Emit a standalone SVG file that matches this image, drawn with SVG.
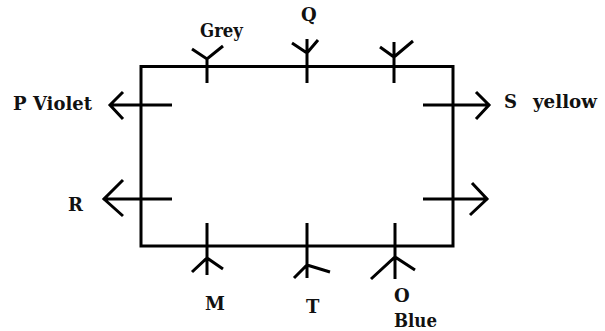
<svg xmlns="http://www.w3.org/2000/svg" width="605" height="331" viewBox="0 0 605 331">
<style>
.l{stroke:#000;stroke-width:3;fill:none;stroke-linecap:butt}
.t{font-family:"DejaVu Serif","Liberation Serif",serif;font-weight:bold;font-size:18px;fill:#111}
</style>
<rect width="605" height="331" fill="#fff"/>
<g id="connectors">
<rect id="table" x="141" y="66.5" width="312" height="179.5" class="l"/>
</g>
<g id="grey"><path class="l" d="M207 57V83M192 49L207 59L223 46"/><text class="t" x="200" y="37" textLength="43" lengthAdjust="spacingAndGlyphs">Grey</text></g>
<g id="q"><path class="l" d="M307 39V83M292 43L307 53L318 40"/><text class="t" x="301" y="21">Q</text></g>
<g id="top3"><path class="l" d="M394 42V83M380 47L394 57L413 41"/></g>
<g id="p"><path class="l" d="M110 105H172M123 92L110 105L123 119"/><text class="t" x="13" y="110">P</text><text class="t" x="33" y="110" textLength="59" lengthAdjust="spacingAndGlyphs">Violet</text></g>
<g id="r"><path class="l" d="M103 199H172M123 180L104 199L123 216"/><text class="t" x="68" y="211">R</text></g>
<g id="s"><path class="l" d="M423 105H490M476 92L489 105L476 119"/><text class="t" x="504" y="108">S</text><text class="t" x="533" y="108" textLength="64" lengthAdjust="spacingAndGlyphs">yellow</text></g>
<g id="right2"><path class="l" d="M423 199H488M472 183L487 199L470 215"/></g>
<g id="m"><path class="l" d="M207 223V275M192 272L207 258L223 269"/><text class="t" x="205" y="310">M</text></g>
<g id="t"><path class="l" d="M307 223V278M294 278L307 265L330 272"/><text class="t" x="306" y="313">T</text></g>
<g id="o"><path class="l" d="M395 223V279M371 279L395 257L415 270"/><text class="t" x="394" y="302">O</text><text class="t" x="394" y="327" textLength="43" lengthAdjust="spacingAndGlyphs">Blue</text></g>
</svg>
